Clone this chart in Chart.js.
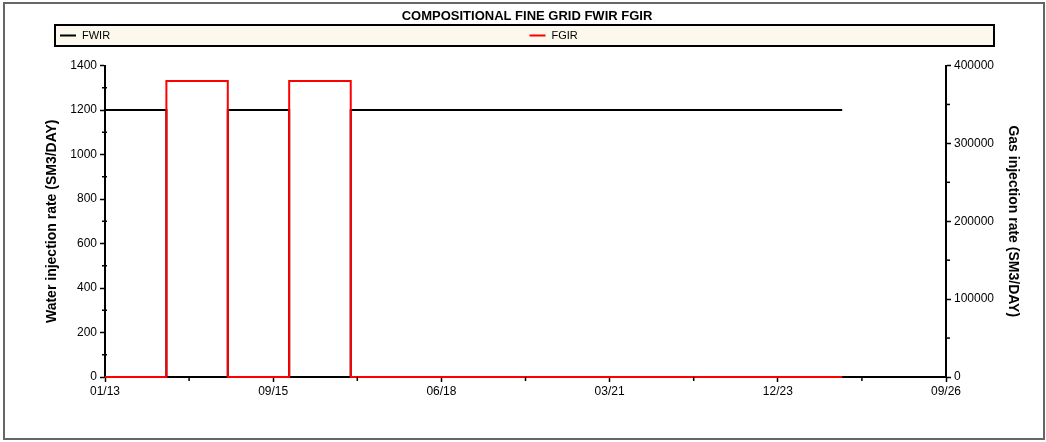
<!DOCTYPE html>
<html>
<head>
<meta charset="utf-8">
<script src="https://cdn.jsdelivr.net/npm/chart.js@4/dist/chart.umd.min.js"></script>
<style>
  html, body { margin: 0; padding: 0; background: #ffffff; }
  canvas { display: block; }
</style>
</head>
<body>
<canvas id="chart" width="1046" height="442"></canvas>
<script>
// Injection schedule (rates hold from each date until the next one)
const chartTitle = 'COMPOSITIONAL FINE GRID FWIR FGIR';
const startDate = '2013-01-01';
const stepDates = ['2013-01-01', '2014-01-01', '2015-01-01', '2016-01-01', '2017-01-01', '2025-01-01'];
const fwirValues = [1200, 0, 1200, 0, 1200, 1200];          // SM3/DAY
const fgirValues = [0, 380000, 0, 380000, 0, 0];            // SM3/DAY
const xTickLabels = ['01/13', '09/15', '06/18', '03/21', '12/23', '09/26'];
const xTickStepDays = 1000;
const waterAxis = { min: 0, max: 1400, step: 200 };
const gasAxis = { min: 0, max: 400000, step: 100000 };

const FONT = "'Liberation Sans', Arial, Helvetica, sans-serif";
const dayOf = d => Math.round((Date.parse(d) - Date.parse(startDate)) / 86400000);
const days = stepDates.map(dayOf);

const fwirPoints = days.map((x, i) => ({ x, y: fwirValues[i] }));
const fgirPoints = days.map((x, i) => ({ x, y: fgirValues[i] }));

// Frame, title and boxed two-column legend
const framePlugin = {
  id: 'frame',
  beforeDraw(chart) {
    const ctx = chart.ctx;
    ctx.save();
    ctx.fillStyle = '#ffffff';
    ctx.fillRect(0, 0, chart.width, chart.height);
    ctx.strokeStyle = '#666666';
    ctx.lineWidth = 2;
    ctx.strokeRect(4, 3, 1040, 436);

    ctx.fillStyle = '#000000';
    ctx.font = 'bold 13px ' + FONT;
    ctx.textAlign = 'center';
    ctx.textBaseline = 'middle';
    ctx.fillText(chartTitle, 527, 16);

    const bx = 55, by = 25, bw = 939, bh = 21;
    ctx.fillStyle = '#fcf8ee';
    ctx.fillRect(bx, by, bw, bh);
    ctx.strokeStyle = '#000000';
    ctx.lineWidth = 2;
    ctx.strokeRect(bx, by, bw, bh);

    const colW = bw / chart.data.datasets.length;
    chart.data.datasets.forEach((ds, i) => {
      const x0 = bx + colW * i + 5;
      const y0 = by + bh / 2;
      ctx.strokeStyle = ds.borderColor;
      ctx.lineWidth = 2;
      ctx.beginPath();
      ctx.moveTo(x0, y0);
      ctx.lineTo(x0 + 16, y0);
      ctx.stroke();
      ctx.fillStyle = '#000000';
      ctx.font = '11px ' + FONT;
      ctx.textAlign = 'left';
      ctx.textBaseline = 'middle';
      ctx.fillText(ds.label, x0 + 22, y0 + 0.5);
    });
    ctx.restore();
  }
};

// Short unlabeled ticks halfway between labeled ticks
const minorTickPlugin = {
  id: 'minorTicks',
  afterDraw(chart) {
    const ctx = chart.ctx;
    ctx.save();
    ctx.strokeStyle = '#000000';
    ctx.lineWidth = 1.5;
    Object.values(chart.scales).forEach(scale => {
      const step = scale.options.minorStep;
      if (!step) return;
      for (let v = scale.min + step; v < scale.max; v += 2 * step) {
        const p = scale.getPixelForValue(v);
        ctx.beginPath();
        if (scale.axis === 'x') {
          ctx.moveTo(p, scale.top);
          ctx.lineTo(p, scale.top + 4);
        } else if (scale.position === 'left') {
          ctx.moveTo(scale.right - 3, p);
          ctx.lineTo(scale.right + 2, p);
        } else {
          ctx.moveTo(scale.left, p);
          ctx.lineTo(scale.left + 4, p);
        }
        ctx.stroke();
      }
    });
    ctx.restore();
  }
};

const axisGrid = {
  display: true,
  drawOnChartArea: false,
  drawTicks: true,
  tickLength: 5,
  tickWidth: 1.5,
  tickColor: '#000000'
};
const axisBorder = { display: true, color: '#000000', width: 2 };
const tickFont = { family: FONT, size: 12 };
const titleFont = { family: FONT, size: 14, weight: 'bold' };
const plainNumber = v => String(v);

new Chart(document.getElementById('chart'), {
  type: 'line',
  data: {
    datasets: [
      {
        label: 'FWIR',
        data: fwirPoints,
        yAxisID: 'yWater',
        borderColor: '#000000',
        borderWidth: 2,
        stepped: 'before',
        pointRadius: 0,
        fill: false,
        clip: false,
        order: 1
      },
      {
        label: 'FGIR',
        data: fgirPoints,
        yAxisID: 'yGas',
        borderColor: '#ff0000',
        borderWidth: 2,
        stepped: 'before',
        pointRadius: 0,
        fill: false,
        clip: false,
        order: 0
      }
    ]
  },
  options: {
    responsive: false,
    animation: false,
    events: [],
    layout: { padding: { top: 65.5, left: 0, right: 0, bottom: 0 } },
    plugins: {
      legend: { display: false },
      title: { display: false },
      tooltip: { enabled: false }
    },
    scales: {
      x: {
        type: 'linear',
        min: 0,
        max: xTickStepDays * (xTickLabels.length - 1),
        minorStep: xTickStepDays / 2,
        grid: axisGrid,
        border: axisBorder,
        ticks: {
          stepSize: xTickStepDays,
          color: '#000000',
          font: tickFont,
          padding: 2,
          maxRotation: 0,
          autoSkip: false,
          callback: v => xTickLabels[Math.round(v / xTickStepDays)]
        },
        afterFit(scale) { scale.height = 65; }
      },
      yWater: {
        type: 'linear',
        position: 'left',
        min: waterAxis.min,
        max: waterAxis.max,
        minorStep: waterAxis.step / 2,
        grid: axisGrid,
        border: axisBorder,
        ticks: { stepSize: waterAxis.step, color: '#000000', font: tickFont, padding: 3, callback: plainNumber },
        title: {
          display: true,
          text: 'Water injection rate (SM3/DAY)',
          color: '#000000',
          font: titleFont,
          padding: { top: 44, bottom: 0 }
        },
        afterFit(scale) { scale.width = 105; }
      },
      yGas: {
        type: 'linear',
        position: 'right',
        min: gasAxis.min,
        max: gasAxis.max,
        minorStep: gasAxis.step / 2,
        grid: axisGrid,
        border: axisBorder,
        ticks: { stepSize: gasAxis.step, color: '#000000', font: tickFont, padding: 3, callback: plainNumber },
        title: {
          display: true,
          text: 'Gas injection rate (SM3/DAY)',
          color: '#000000',
          font: titleFont,
          padding: { top: 25, bottom: 0 }
        },
        afterFit(scale) { scale.width = 100; }
      }
    }
  },
  plugins: [framePlugin, minorTickPlugin]
});
</script>
</body>
</html>
